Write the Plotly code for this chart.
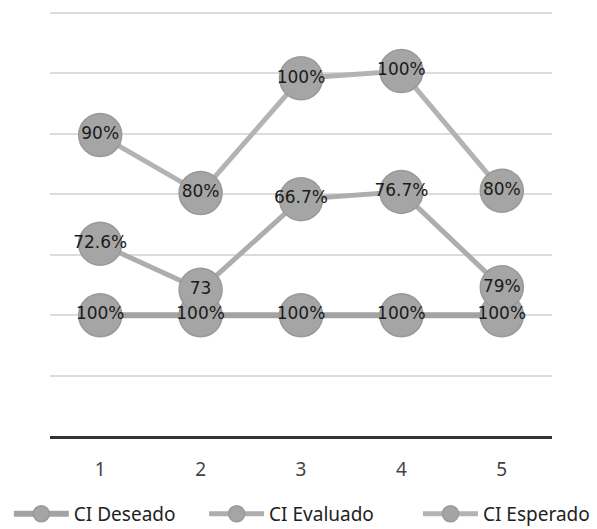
import numpy as np
import plotly.graph_objects as go

categories = [1, 2, 3, 4, 5]

# plotted (stacked) series values
ci_deseado = [1.0, 1.0, 1.0, 1.0, 1.0]
ci_evaluado = [0.59, 0.21, 0.96, 1.02, 0.23]
ci_esperado = [0.9, 0.8, 1.0, 1.0, 0.8]

# data labels as shown in the picture
lbl_deseado = ["100%", "100%", "100%", "100%", "100%"]
lbl_evaluado = ["72.6%", "73", "66.7%", "76.7%", "79%"]
lbl_esperado = ["90%", "80%", "100%", "100%", "80%"]

names = ["CI Deseado", "CI Evaluado", "CI Esperado"]
series = [ci_deseado, ci_evaluado, ci_esperado]
labels = [lbl_deseado, lbl_evaluado, lbl_esperado]
stacked = np.cumsum(np.array(series), axis=0)

line_colors = ["#a3a3a3", "#adadad", "#b3b3b3"]
line_widths = [6, 5, 5]
legend_ids = ["legend", "legend2", "legend3"]
legend_x = [-0.082, 0.307, 0.733]

fig = go.Figure()
for i in range(3):
    fig.add_trace(go.Scatter(
        x=categories, y=stacked[i], name=names[i], legend=legend_ids[i],
        mode="lines+markers",
        line=dict(color=line_colors[i], width=line_widths[i]),
        marker=dict(size=43, color="#a5a5a5",
                    line=dict(color="#999999", width=1.5)),
    ))
for i in range(3):
    fig.add_trace(go.Scatter(
        x=categories, y=stacked[i], mode="text", showlegend=False,
        text=labels[i], textposition="middle center",
        textfont=dict(family="DejaVu Sans", size=17, color="#1a1a1a"),
        hoverinfo="skip",
    ))

legend_style = dict(orientation="h", xanchor="left", y=-0.183, yanchor="middle",
                    font=dict(family="Noto Sans", size=19, color="#222222"),
                    itemwidth=55, bgcolor="rgba(0,0,0,0)")

fig.update_layout(
    width=597, height=529,
    margin=dict(l=50, r=45, t=10, b=93, autoexpand=False),
    paper_bgcolor="white", plot_bgcolor="white",
    showlegend=True,
    legend=dict(x=legend_x[0], **legend_style),
    legend2=dict(x=legend_x[1], **legend_style),
    legend3=dict(x=legend_x[2], **legend_style),
    xaxis=dict(range=[0.5, 5.5], tickvals=categories,
               ticktext=[str(c) for c in categories],
               showgrid=False, zeroline=False, showline=True,
               linecolor="#333333", linewidth=3,
               ticks="outside", ticklen=14, tickcolor="rgba(0,0,0,0)",
               tickfont=dict(family="Noto Sans", size=19, color="#444444")),
    yaxis=dict(range=[0, 3.525], tickvals=[0.5, 1, 1.5, 2, 2.5, 3, 3.5],
               showticklabels=False,
               showgrid=True, gridcolor="#dcdcdc", gridwidth=1.5,
               zeroline=False, showline=False),
)

fig.write_html("out.html", config={"displayModeBar": False},
               post_script="document.body.style.margin='0';"
                           "document.body.style.overflow='hidden';")
